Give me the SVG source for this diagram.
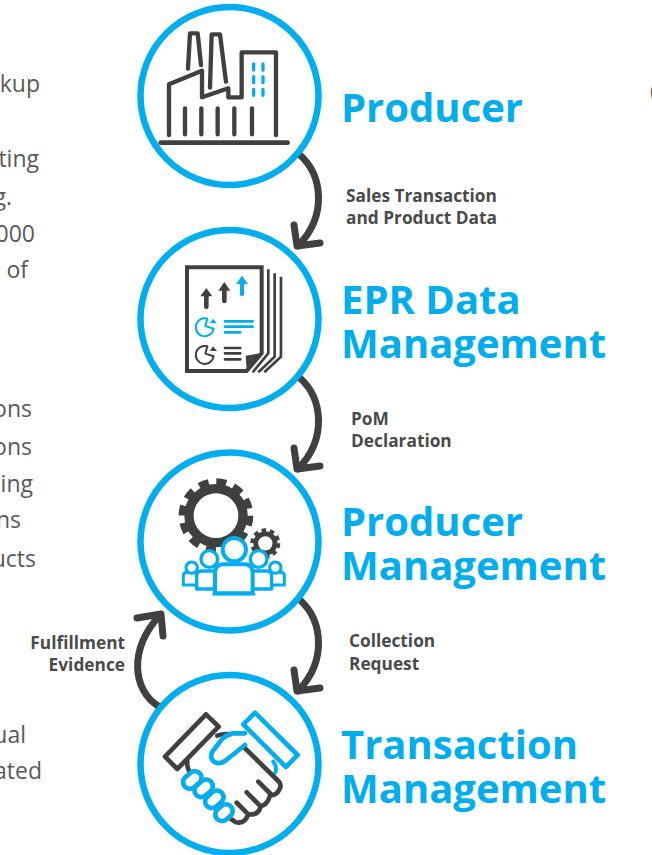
<svg xmlns="http://www.w3.org/2000/svg" width="652" height="855" viewBox="0 0 652 855">
<style>
.ring{fill:#fff;stroke:#00aeef;stroke-width:6.5}
.d{fill:none;stroke:#404041;stroke-linecap:round;stroke-linejoin:round}
.b{fill:none;stroke:#00aeef;stroke-linecap:round;stroke-linejoin:round}
.bw{fill:#fff;stroke:#00aeef;stroke-linejoin:round}
.conn{fill:none;stroke:#404041;stroke-width:7;stroke-linecap:round;stroke-linejoin:round}
.h{font:700 40px "Open Sans",sans-serif;fill:#00aeef}
.l{font:700 17.300px "Open Sans",sans-serif;fill:#4a4a4b}
.t{font:400 23px "Open Sans",sans-serif;fill:#58595b;text-anchor:end}
.df{fill:#404041}.bf{fill:#00aeef}
</style>
<rect width="652" height="855" fill="#fff"/>
<g id="side-text">
<text class="t" x="40" y="92">kup</text>
<text class="t" x="39" y="167">ting</text>
<text class="t" x="12" y="205">g.</text>
<text class="t" x="35" y="242">000</text>
<text class="t" x="28" y="277.500">of</text>
<text class="t" x="32" y="416.500">ons</text>
<text class="t" x="32" y="454.500">ons</text>
<text class="t" x="33" y="492">ing</text>
<text class="t" x="21" y="528">ns</text>
<text class="t" x="36" y="566.500">ucts</text>
<text class="t" x="26" y="742.500">ual</text>
<text class="t" x="42" y="779">ated</text>
<text x="650" y="99" style="font:400 22.500px 'Open Sans',sans-serif;fill:#58595b">(</text>
</g>
<g id="connectors">
<path class="conn" d="M300,155C322,175 328,215 298,246M294,225L297,246L320,243"/>
<path class="conn" d="M300,378C322,398 328,438 298,469M294,448L297,469L320,466"/>
<path class="conn" d="M300,600C322,620 328,660 298,691M294,670L297,691L320,688"/>
<path class="conn" d="M158,706C133,690 128,650 160,615M137,618L161,614L163,636"/>
</g>
<g id="producer">
<circle class="ring" cx="229.500" cy="96" r="89"/>
<g transform="translate(130,0) scale(.3333)">
<path class="d" stroke-width="14" d="M92,428H473"/>
<path class="d" stroke-width="13" d="M117,405V253L216,212V292L295,265V292H335V157H438V405M174,206L180,100H203L213,195M240,263L245,103H270L288,245M165,325V403M214,325V403M263,325V403M313,325V403M366,325V403"/>
<path class="b" stroke-width="10" d="M371,192V210M399,192V210M371,230V248M399,230V248M371,268V286M399,268V286"/>
</g>
<text class="h" x="341" y="122">Producer</text>
</g>
<g id="epr-data-management">
<circle class="ring" cx="229.500" cy="319" r="89"/>
<g transform="translate(130,225) scale(.3333)">
<path d="M171,127H395V385L350,438H171Z" fill="none" stroke="#404041" stroke-width="12"/>
<path class="df" d="M347,392L392,385L350,436Z"/>
<path fill="none" stroke="#404041" stroke-width="8" d="M415,133V385L368,442M434,145V395L385,442M453,155V395L403,442"/>
<path class="d" stroke-width="14" d="M229,245V205M283,228V188"/>
<path class="df" d="M211,214L229,189L247,214ZM265,197L283,171L301,197Z"/>
<path class="b" stroke-width="12" d="M336,208V170"/>
<path class="bf" d="M318,177L336,152L354,177Z"/>
<path class="b" stroke-width="6" d="M232,281A27,27 0 1 0 251,311L226,303Z"/>
<path class="bf" d="M240,295L249,281L261,295Z"/>
<path class="b" stroke-width="8" d="M285,289H368M285,305H368M285,322H331"/>
<path class="d" stroke-width="6" d="M232,364A27,27 0 1 0 251,394L226,386Z"/>
<path class="df" d="M240,378L249,364L261,378Z"/>
<path class="d" stroke-width="8" d="M285,369H331M285,385H331M285,403H331"/>
</g>
<text class="h" x="341" y="314">EPR Data</text>
<text class="h" x="341" y="358">Management</text>
</g>
<g id="producer-management">
<circle class="ring" cx="229.500" cy="541.500" r="89"/>
<g transform="translate(130,445) scale(.3333)">
<circle cx="258" cy="212" r="81" fill="none" stroke="#404041" stroke-width="28"/>
<circle cx="258" cy="212" r="101" fill="none" stroke="#404041" stroke-width="22" stroke-dasharray="30 22.900"/>
<circle cx="406" cy="295" r="29" fill="none" stroke="#404041" stroke-width="15"/>
<circle cx="406" cy="295" r="39" fill="none" stroke="#404041" stroke-width="12" stroke-dasharray="13.500 11"/>
<path class="bw" stroke-width="9" d="M160,420V392Q160,382 172,382H200V420ZM463,420V392Q463,382 451,382H420V420Z"/>
<circle class="bw" stroke-width="9" cx="185" cy="368" r="17"/>
<circle class="bw" stroke-width="9" cx="436" cy="368" r="17"/>
<path class="bw" stroke-width="10" d="M200,432V392Q200,378 215,378H260V432ZM425,432V392Q425,378 410,378H365V432Z"/>
<circle class="bw" stroke-width="10" cx="238" cy="342" r="25"/>
<circle class="bw" stroke-width="10" cx="386" cy="342" r="25"/>
<path class="bw" stroke-width="12" d="M255,445V385Q255,358 280,358H345Q368,358 368,385V445Z"/>
<path class="b" stroke-width="7" d="M250,448H373"/>
<circle class="bw" stroke-width="12" cx="313" cy="314" r="35"/>
</g>
<text class="h" x="341" y="536">Producer</text>
<text class="h" x="341" y="580">Management</text>
</g>
<g id="transaction-management">
<circle class="ring" cx="229.500" cy="764" r="89"/>
<g transform="translate(130,665) scale(.3333)">
<path class="d" stroke-width="14" d="M262,212Q280,205 300,208M172,290Q170,305 178,320M385,350L425,390Q440,392 450,370Q455,358 445,348L340,245M350,382L392,424Q412,420 420,392M320,413L355,448Q385,452 392,424M355,448Q345,478 318,472L303,462"/>
<path class="b" stroke-width="12" d="M430,290Q442,305 436,322"/>
<path class="d" stroke-width="14" d="M228,148L266,185L142,312L105,275Z"/>
<path class="bw" stroke-width="14" d="M375,143L503,270L468,306L340,178Z"/>
<path class="b" stroke-width="14" d="M345,205H312Q292,205 275,224L247,260Q238,278 252,290Q268,300 285,288L345,240"/>
<g class="bw" stroke-width="14">
<rect x="-30" y="-20" width="60" height="40" rx="20" transform="translate(187,345) rotate(-40)"/>
<rect x="-30" y="-20" width="60" height="40" rx="20" transform="translate(221,370) rotate(-40)"/>
<rect x="-30" y="-20" width="60" height="40" rx="20" transform="translate(253,403) rotate(-40)"/>
<rect x="-28" y="-20" width="56" height="40" rx="20" transform="translate(282,443) rotate(-40)"/>
</g>
</g>
<text class="h" x="341" y="759">Transaction</text>
<text class="h" x="341" y="803">Management</text>
</g>
<g id="connector-labels">
<text class="l" x="346" y="201.500">Sales Transaction</text>
<text class="l" x="346" y="223.500">and Product Data</text>
<text class="l" x="351" y="424.500">PoM</text>
<text class="l" x="351" y="446.500">Declaration</text>
<text class="l" x="349" y="646.500">Collection</text>
<text class="l" x="349" y="669.500">Request</text>
<text class="l" x="125" y="648.500" text-anchor="end">Fulfillment</text>
<text class="l" x="125" y="670.500" text-anchor="end">Evidence</text>
</g>
</svg>
